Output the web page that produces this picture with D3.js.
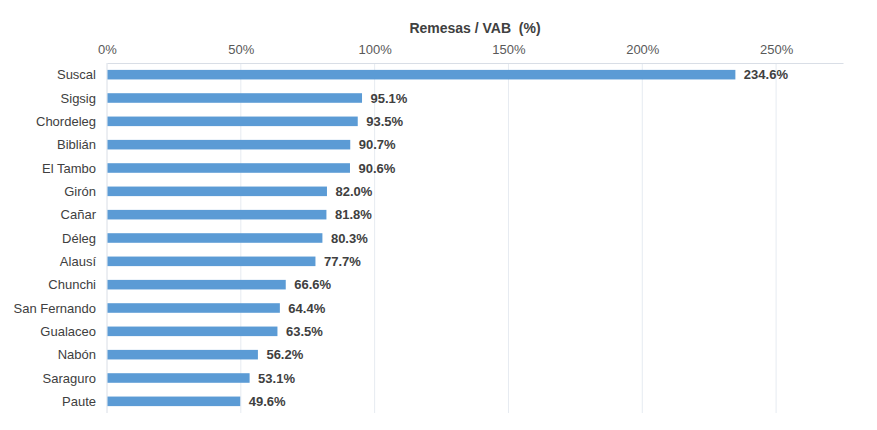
<!DOCTYPE html>
<html><head><meta charset="utf-8">
<script src="https://cdn.jsdelivr.net/npm/d3@7"></script>
<style>body{margin:0;background:#fff;} text{font-family:Arial,"Liberation Sans",sans-serif;}</style>
</head><body>
<svg id="c" width="877" height="430"></svg>
<script>
const categories = ["Suscal","Sigsig","Chordeleg","Biblián","El Tambo","Girón","Cañar","Déleg","Alausí","Chunchi","San Fernando","Gualaceo","Nabón","Saraguro","Paute"];
const values = [234.6,95.1,93.5,90.7,90.6,82.0,81.8,80.3,77.7,66.6,64.4,63.5,56.2,53.1,49.6];
const tickValues = [0,50,100,150,200,250];
const title = "Remesas / VAB  (%)";

const svg = d3.select("#c");
const m = {left:107, top:63, right:34, bottom:17};
const W = 877, H = 430;
const x = d3.scaleLinear().domain([0,275]).range([m.left, W-m.right]);
const y = d3.scaleBand().domain(categories).range([m.top, H-m.bottom]).paddingInner(0.59).paddingOuter(0.295);

// gridlines
svg.append("g").selectAll("line").data(tickValues.slice(1)).join("line")
  .attr("x1",d=>x(d)).attr("x2",d=>x(d)).attr("y1",m.top).attr("y2",H-m.bottom)
  .attr("stroke","#e6ebf1").attr("stroke-width",1);

// top axis
const ax = svg.append("g").attr("transform",`translate(0,${m.top})`)
  .call(d3.axisTop(x).tickValues(tickValues).tickFormat(d=>d+"%").tickSize(0).tickPadding(9));
ax.select(".domain").attr("stroke","#d9dee6");
ax.selectAll("text").attr("font-size",13).attr("fill","#595959").attr("font-family","Arial, 'Liberation Sans', sans-serif");

// left axis line
svg.append("line").attr("x1",x(0)).attr("x2",x(0)).attr("y1",m.top).attr("y2",H-m.bottom).attr("stroke","#d9dee6");

// bars
svg.append("g").selectAll("rect").data(values).join("rect")
  .attr("x",x(0)+0.5).attr("y",(d,i)=>y(categories[i]))
  .attr("width",d=>x(d)-x(0)).attr("height",y.bandwidth())
  .attr("fill","#5b9bd5");

// value labels
svg.append("g").selectAll("text").data(values).join("text")
  .attr("x",d=>x(d)+9).attr("y",(d,i)=>y(categories[i])+y.bandwidth()/2)
  .attr("dy","0.36em").attr("font-size",13).attr("font-weight","bold").attr("fill","#404040")
  .text(d=>d.toFixed(1)+"%");

// category labels
svg.append("g").selectAll("text").data(categories).join("text")
  .attr("x",96).attr("y",d=>y(d)+y.bandwidth()/2).attr("dy","0.36em")
  .attr("text-anchor","end").attr("font-size",13).attr("fill","#404040").text(d=>d);

// title
svg.append("text").attr("x",475).attr("y",33).attr("text-anchor","middle")
  .style("white-space","pre")
  .attr("font-size",14).attr("font-weight","bold").attr("fill","#404040").text(title);
</script>
</body></html>
